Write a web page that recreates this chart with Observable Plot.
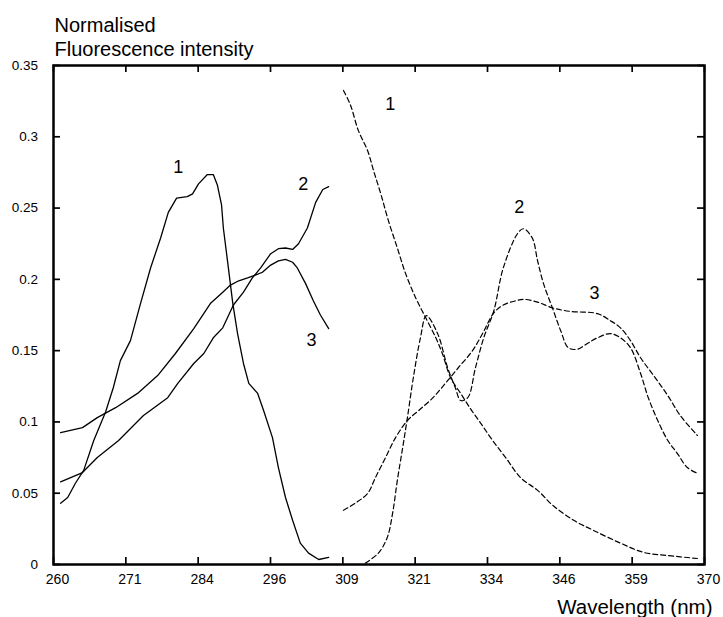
<!DOCTYPE html>
<html>
<head>
<meta charset="utf-8">
<script src="https://cdn.jsdelivr.net/npm/d3@7"></script>
<script src="https://cdn.jsdelivr.net/npm/@observablehq/plot@0.6"></script>
<style>
  body { margin: 0; background: #fff; }
</style>
</head>
<body>
<div id="chart"></div>
<script>
// ---- Data ----
// Excitation spectra (solid lines): [wavelength, normalised intensity]
const excitation1 = [
  [261.2,0.043],[262.4,0.047],[263.7,0.057],[265.1,0.066],[266.8,0.087],[268.8,0.107],
  [270.1,0.124],[271.3,0.143],[273.0,0.157],[274.7,0.183],[276.4,0.208],[278.1,0.229],
  [279.4,0.247],[280.8,0.257],[282.6,0.258],[283.5,0.260],[284.5,0.267],[286.0,0.2735],
  [287.0,0.2735],[287.7,0.266],[288.4,0.252],[288.7,0.236],[289.4,0.213],[290.3,0.183],
  [291.1,0.162],[292.1,0.141],[293.0,0.127],[294.5,0.120],[295.5,0.108],[297.0,0.089],
  [298.0,0.068],[299.2,0.047],[300.4,0.031],[301.7,0.015],[303.1,0.008],[304.8,0.0035],
  [306.5,0.005]
];
const excitation2 = [
  [261.2,0.058],[264.9,0.0645],[267.4,0.075],[271.0,0.087],[275.2,0.1045],[279.3,0.117],
  [281.0,0.127],[283.7,0.141],[285.4,0.148],[287.0,0.159],[288.6,0.166],[290.4,0.182],
  [292.1,0.191],[293.6,0.201],[295.0,0.208],[296.7,0.218],[298.0,0.2215],[299.2,0.222],
  [300.4,0.221],[301.4,0.225],[302.9,0.236],[304.3,0.254],[305.5,0.263],[306.5,0.265]
];
const excitation3 = [
  [261.2,0.0925],[264.9,0.096],[267.4,0.103],[270.5,0.110],[274.2,0.120],[277.6,0.1325],
  [280.6,0.148],[283.7,0.1655],[286.5,0.183],[288.6,0.191],[289.9,0.196],[291.3,0.199],
  [292.8,0.201],[294.1,0.203],[295.3,0.205],[296.7,0.210],[298.0,0.213],[299.2,0.214],
  [300.4,0.212],[301.2,0.208],[302.6,0.197],[303.9,0.185],[305.1,0.175],[306.5,0.1655]
];
// Emission spectra (dashed lines)
const emission1 = [
  [309.0,0.3325],[310.2,0.322],[311.5,0.3045],[313.1,0.290],[314.1,0.276],[315.3,0.260],
  [316.6,0.241],[318.1,0.222],[319.5,0.204],[321.2,0.187],[322.9,0.173],[324.6,0.159],
  [325.7,0.148],[327.1,0.131],[328.8,0.120],[330.5,0.109],[332.2,0.099],[334.2,0.087],
  [336.4,0.075],[338.9,0.061],[341.8,0.052],[344.5,0.041],[347.9,0.031],[351.2,0.024],
  [355.8,0.015],[359.7,0.0085],[363.8,0.0063],[368.8,0.0042]
];
const emission2 = [
  [312.7,0.001],[314.9,0.008],[316.4,0.019],[317.3,0.036],[318.1,0.059],[319.0,0.082],
  [319.8,0.103],[320.8,0.131],[322.0,0.159],[323.0,0.1745],[324.9,0.162],[326.6,0.138],
  [327.9,0.124],[328.8,0.115],[330.0,0.117],[331.3,0.138],[332.7,0.159],[334.4,0.178],
  [336.0,0.208],[338.4,0.232],[339.4,0.2355],[340.9,0.229],[341.8,0.213],[342.8,0.197],
  [344.3,0.180],[345.7,0.164],[347.0,0.152],[348.5,0.151],[350.2,0.155],[351.9,0.159],
  [354.1,0.162],[355.8,0.159],[357.5,0.152],[359.2,0.134],[360.5,0.117],[362.1,0.101],
  [363.8,0.087],[365.4,0.078],[367.1,0.068],[368.8,0.064]
];
const emission3 = [
  [309.0,0.038],[311.0,0.043],[313.1,0.050],[314.4,0.061],[316.1,0.075],[317.8,0.089],
  [319.8,0.101],[321.7,0.108],[324.0,0.1165],[326.2,0.127],[328.4,0.138],[330.8,0.150],
  [332.5,0.162],[334.4,0.1765],[336.0,0.182],[338.1,0.185],[339.4,0.186],[341.8,0.184],
  [344.3,0.180],[347.4,0.1775],[351.9,0.176],[354.1,0.171],[355.8,0.166],[357.5,0.157],
  [359.2,0.145],[361.4,0.1325],[363.8,0.1185],[365.9,0.1045],[368.8,0.0905]
];
// Curve number labels: [wavelength, intensity, text]
const curveLabels = [
  [281.1,0.2785,"1"],[302.2,0.2665,"2"],[303.6,0.157,"3"],
  [316.9,0.3225,"1"],[338.7,0.2505,"2"],[351.4,0.190,"3"]
];
// Axis ticks
const xTickValues = d3.range(10).map(i => 260 + i * 110 / 9);
const xTickLabels = ["260","271","284","296","309","321","334","346","359","370"];
const yTickValues = [0,0.05,0.1,0.15,0.2,0.25,0.3,0.35];
const yTickLabels = ["0","0.05","0.1","0.15","0.2","0.25","0.3","0.35"];
const titleText = "Normalised\nFluorescence intensity";
const xTitle = "Wavelength (nm)";

// ---- Chart ----
const chartW = 723, chartH = 617, mL = 53, mR = 19, mT = 65, mB = 53;
const frameW = chartW - mL - mR, frameH = chartH - mT - mB;
const tickLen = 7; // inward tick length
const toRows = arr => arr.map(([wl, v]) => ({wl, v}));
const labelRows = curveLabels.map(([wl, v, t]) => ({wl, v, t}));
const font = "'Liberation Sans', Arial, Helvetica, sans-serif";
const xLab = d => xTickLabels[Math.round((d - 260) * 9 / 110)];
const yLab = d => yTickLabels[Math.round(d / 0.05)];

const chart = Plot.plot({
  width: chartW, height: chartH,
  marginLeft: mL, marginRight: mR, marginTop: mT, marginBottom: mB,
  style: {fontFamily: font},
  x: {domain: [260, 370], axis: null},
  y: {domain: [0, 0.35], axis: null},
  marks: [
    // frame
    Plot.frame({stroke: "black", strokeWidth: 2.5}),
    // inward ticks on all four sides
    Plot.ruleX(xTickValues, {x: d => d, insetTop: frameH - tickLen, stroke: "black", strokeWidth: 1.7}),
    Plot.ruleX(xTickValues, {x: d => d, insetBottom: frameH - tickLen, stroke: "black", strokeWidth: 1.7}),
    Plot.ruleY(yTickValues, {y: d => d, insetRight: frameW - tickLen, stroke: "black", strokeWidth: 1.7}),
    Plot.ruleY(yTickValues, {y: d => d, insetLeft: frameW - tickLen, stroke: "black", strokeWidth: 1.7}),
    // solid excitation curves
    Plot.line(toRows(excitation1), {x: "wl", y: "v", stroke: "black", strokeWidth: 1.3}),
    Plot.line(toRows(excitation2), {x: "wl", y: "v", stroke: "black", strokeWidth: 1.3}),
    Plot.line(toRows(excitation3), {x: "wl", y: "v", stroke: "black", strokeWidth: 1.3}),
    // dashed emission curves
    Plot.line(toRows(emission1), {x: "wl", y: "v", stroke: "black", strokeWidth: 1.2, strokeDasharray: "5,3", curve: "catmull-rom"}),
    Plot.line(toRows(emission2), {x: "wl", y: "v", stroke: "black", strokeWidth: 1.2, strokeDasharray: "5,3", curve: "catmull-rom"}),
    Plot.line(toRows(emission3), {x: "wl", y: "v", stroke: "black", strokeWidth: 1.2, strokeDasharray: "5,3", curve: "catmull-rom"}),
    // curve number labels
    Plot.text(labelRows, {x: "wl", y: "v", text: "t", fontSize: 18, fill: "black"}),
    // tick labels
    Plot.text(xTickValues, {x: d => d, text: xLab, frameAnchor: "bottom", lineAnchor: "top", dy: 10, dx: 4, fontSize: 14, fill: "black"}),
    Plot.text(yTickValues, {y: d => d, text: yLab, frameAnchor: "left", textAnchor: "end", dx: -15.5, fontSize: 13.5, fill: "black"}),
    // titles
    Plot.text([titleText], {frameAnchor: "top-left", textAnchor: "start", lineAnchor: "top", lineHeight: 1.2, dx: 1, dy: -51, fontSize: 20, fill: "black"}),
    Plot.text([xTitle], {frameAnchor: "bottom-right", textAnchor: "end", lineAnchor: "top", dx: 8, dy: 35, fontSize: 20.5, fill: "black"})
  ]
});
document.getElementById("chart").appendChild(chart);
</script>
</body>
</html>
